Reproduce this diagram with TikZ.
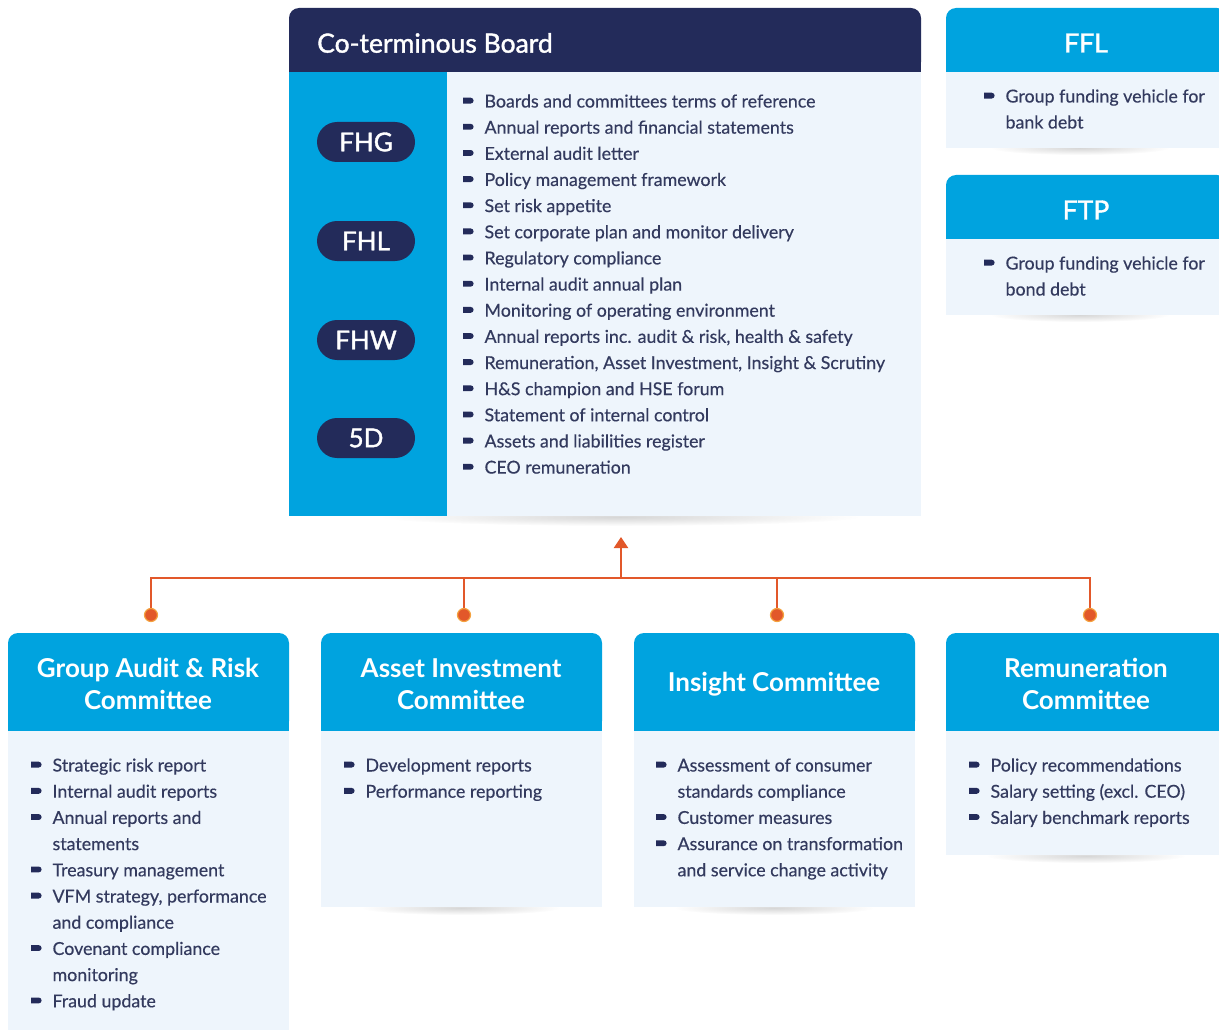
\documentclass[tikz,border=0pt]{standalone}
\usepackage{fontspec}
\setmainfont{Lato}
\newfontface\medio{Lato}[FakeBold=1.4]
\newfontface\suave{Lato}[FakeBold=0.4]
\usetikzlibrary{arrows.meta}
\definecolor{marino}{HTML}{232B5A}
\definecolor{cielo}{HTML}{00A3DF}
\definecolor{nube}{HTML}{EEF5FC}
\definecolor{tinta}{HTML}{333A5E}
\definecolor{teja}{HTML}{E2582A}
\definecolor{ambar}{HTML}{F4A340}
\newcommand{\bul}{\makebox[1.2em][l]{\tikz[x=1em,y=1em,baseline=0pt]\fill[marino] (0,0.22) -- (0.42,0.22) arc(-90:90:0.165) -- (0,0.55) -- cycle;}}
\newcommand{\sig}{\hspace*{1.2em}}
\tikzset{
  fila/.style={anchor=west, inner sep=0pt, text height=17pt, text depth=4pt, text=tinta, font=\suave\fontsize{17.8}{20}\selectfont},
  pastilla/.style={fill=marino, text=white, rounded corners=20pt, minimum width=98pt, minimum height=40pt, font=\medio\fontsize{26}{30}\selectfont},
  titulo/.style={text=white, inner sep=0pt, font=\medio\fontsize{26.5}{30}\selectfont},
  comite/.style={text=white, align=center, inner sep=0pt, font=\bfseries\fontsize{26}{32}\selectfont},
  punto/.style={circle, fill=teja, draw=ambar, line width=1.2pt, minimum size=13pt, inner sep=0pt},
  sombra/.style={inner color=black!16, outer color=white},
}
\begin{document}
\begin{tikzpicture}[x=1pt, y=-1pt]
  \clip (0,0) rectangle (1219,1030);
  % sombras debajo de las cajas
  \shade[sombra] (620,517) ellipse (240 and 9);
  \shade[sombra] (1080,148) ellipse (90 and 7);
  \shade[sombra] (1080,315) ellipse (90 and 7);
  \shade[sombra] (461,908) ellipse (100 and 7);
  \shade[sombra] (774,908) ellipse (100 and 7);
  \shade[sombra] (1086,856) ellipse (100 and 7);
  % el consejo: cabecera, columna y cuerpo
  \fill[marino, rounded corners=10pt] (289,8) rectangle (921,72);
  \fill[marino] (289,40) rectangle (921,72);
  \fill[cielo] (289,72) rectangle (447,516);
  \fill[nube] (447,72) rectangle (921,516);
  \node[titulo, anchor=west] (tconsejo) at (317,43) {Co-terminous Board};
  \foreach \n/\y in {FHG/142, FHL/241, FHW/340, 5D/438} {
    \node[pastilla] (p\n) at (366,\y) {\n};
  }
  \foreach \t [count=\i] in {Boards and committees terms of reference,
      Annual reports and financial statements, External audit letter,
      Policy management framework, Set risk appetite,
      Set corporate plan and monitor delivery, Regulatory compliance,
      Internal audit annual plan, Monitoring of operating environment,
      {Annual reports inc. audit \& risk, health \& safety},
      {Remuneration, Asset Investment, Insight \& Scrutiny},
      H\&S champion and HSE forum, Statement of internal control,
      Assets and liabilities register, CEO remuneration} {
    \node[fila] (c\i) at (463,{101+26.15*(\i-1)}) {\bul\t};
  }
  % las dos sociedades de la derecha
  \foreach \y/\n/\d in {8/FFL/bank debt, 175/FTP/bond debt} {
    \fill[cielo, rounded corners=10pt] (946,\y) rectangle (1227,{\y+64});
    \fill[cielo] (946,{\y+32}) rectangle (1227,{\y+64});
    \fill[nube] (946,{\y+64}) rectangle (1227,{\y+140});
    \node[titulo] (t\n) at (1086,{\y+35}) {\n};
    \node[fila] (\n1) at (984,{\y+88}) {\bul Group funding vehicle for};
    \node[fila] (\n2) at (984,{\y+114}) {\sig\d};
  }
  % los comites
  \foreach \x/\b in {8/1040, 321/907, 634/907, 946/855} {
    \fill[cielo, rounded corners=10pt] (\x,633) rectangle ({\x+281},731);
    \fill[cielo] (\x,680) rectangle ({\x+281},731);
    \fill[nube] (\x,731) rectangle ({\x+281},\b);
  }
  \node[comite] (gar) at (148,684) {Group Audit \& Risk\\Committee};
  \node[comite] (ai) at (461,684) {Asset Investment\\Committee};
  \node[comite] (ins) at (774,684) {Insight Committee};
  \node[comite] (rem) at (1086,684) {Remuneration\\Committee};
  \foreach \t [count=\i] in {\bul Strategic risk report, \bul Internal audit reports,
      \bul Annual reports and, \sig statements, \bul Treasury management,
      {\bul VFM strategy, performance}, \sig and compliance,
      \bul Covenant compliance, \sig monitoring, \bul Fraud update} {
    \node[fila] (g\i) at (31,{765+26.2*(\i-1)}) {\t};
  }
  \foreach \t [count=\i] in {Development reports, Performance reporting} {
    \node[fila] (a\i) at (344,{765+26.2*(\i-1)}) {\bul\t};
  }
  \foreach \t [count=\i] in {\bul Assessment of consumer, \sig standards compliance,
      \bul Customer measures, \bul Assurance on transformation,
      \sig and service change activity} {
    \node[fila] (s\i) at (656,{765+26.2*(\i-1)}) {\t};
  }
  \foreach \t [count=\i] in {Policy recommendations, Salary setting (excl. CEO),
      Salary benchmark reports} {
    \node[fila] (r\i) at (969,{765+26.2*(\i-1)}) {\bul\t};
  }
  % el bus naranja y la flecha hacia el consejo
  \coordinate (bus) at (621,578);
  \coordinate (flecha) at (621,537);
  \foreach \n/\x in {1/151, 2/464, 3/777, 4/1090} {
    \node[punto] (d\n) at (\x,615) {};
  }
  \draw[teja, line width=2pt] (d1) |- (bus) -| (d4);
  \draw[teja, line width=2pt] (d2) -- (d2 |- bus);
  \draw[teja, line width=2pt] (d3) -- (d3 |- bus);
  \draw[teja, line width=2pt, -{Triangle[width=14pt,length=11pt]}] (bus) -- (flecha);
\end{tikzpicture}
\end{document}
